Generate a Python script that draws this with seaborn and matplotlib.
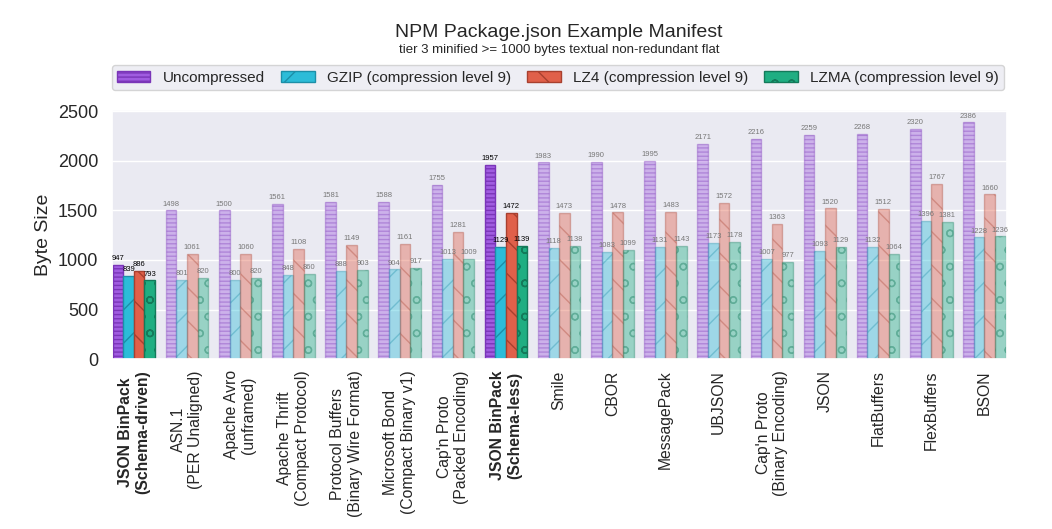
import numpy as np
import pandas as pd
import matplotlib
matplotlib.use("Agg")
import matplotlib.pyplot as plt
import matplotlib.patches as mpatches
import seaborn as sns
from matplotlib.colors import to_rgba

# ── data ────────────────────────────────────────────────────
formats = [
    "JSON BinPack\n(Schema-driven)", "ASN.1\n(PER Unaligned)", "Apache Avro\n(unframed)",
    "Apache Thrift\n(Compact Protocol)", "Protocol Buffers\n(Binary Wire Format)",
    "Microsoft Bond\n(Compact Binary v1)", "Cap'n Proto\n(Packed Encoding)",
    "JSON BinPack\n(Schema-less)", "Smile", "CBOR", "MessagePack", "UBJSON",
    "Cap'n Proto\n(Binary Encoding)", "JSON", "FlatBuffers", "FlexBuffers", "BSON",
]
highlighted = ["JSON BinPack\n(Schema-driven)", "JSON BinPack\n(Schema-less)"]

uncompressed = [947, 1498, 1500, 1561, 1581, 1588, 1755, 1957, 1983, 1990, 1995, 2171, 2216, 2259, 2268, 2320, 2386]
gzip = [839, 801, 800, 848, 888, 904, 1013, 1129, 1118, 1083, 1131, 1173, 1007, 1093, 1132, 1396, 1228]
lz4 = [886, 1061, 1060, 1108, 1149, 1161, 1281, 1472, 1473, 1478, 1483, 1572, 1363, 1520, 1512, 1767, 1660]
lzma = [793, 820, 820, 860, 903, 917, 1009, 1139, 1138, 1099, 1143, 1178, 977, 1129, 1064, 1381, 1236]

series_names = ["Uncompressed", "GZIP (compression level 9)",
                "LZ4 (compression level 9)", "LZMA (compression level 9)"]
colors = ["#a05ce0", "#2cbcd8", "#e0604a", "#1fae82"]
edges = ["#7a35b8", "#1c8fa8", "#a8402f", "#137a5a"]
hatches = ["----", "/", "\\", "o"]

df = pd.DataFrame({
    "format": np.tile(formats, 4),
    "compression": np.repeat(series_names, len(formats)),
    "bytes": uncompressed + gzip + lz4 + lzma,
})

# ── plot ─────────────────────────────────────────────────────
sns.set_theme(style="darkgrid")
plt.rcParams["font.family"] = ["Liberation Sans", "DejaVu Sans"]
plt.rcParams["hatch.linewidth"] = 1.0

fig = plt.figure(figsize=(10.52, 5.29), dpi=100)
ax = fig.add_axes([0.106, 0.321, 0.851, 0.471])

sns.barplot(data=df, x="format", y="bytes", hue="compression",
            hue_order=series_names, order=formats, ax=ax,
            width=0.8, legend=False, errorbar=None)

for i, cont in enumerate(ax.containers):
    for j, bar in enumerate(cont):
        hot = formats[j] in highlighted
        bar.set_hatch(hatches[i])
        if hot:
            bar.set_facecolor(to_rgba(colors[i], 1.0))
            bar.set_edgecolor(to_rgba(edges[i], 1.0))
        else:
            bar.set_facecolor(to_rgba(colors[i], 0.4))
            bar.set_edgecolor(to_rgba(edges[i], 0.35))
        bar.set_linewidth(1.0)
    texts = ax.bar_label(cont, fmt="%d", padding=2, fontsize=5.5)
    for j, t in enumerate(texts):
        t.set_color("black" if formats[j] in highlighted else "#777777")

ax.set_xlim(-0.42, len(formats) - 0.58)
ax.set_ylim(0, 2510)
ax.set_yticks([0, 500, 1000, 1500, 2000, 2500])
ax.tick_params(axis="y", labelsize=13)
ax.tick_params(axis="x", labelsize=11.3, pad=2)
ax.set_xlabel("")
ax.set_ylabel("Byte Size", fontsize=14)
ax.set_xticks(range(len(formats)))
ax.set_xticklabels(formats, rotation=90, va="top", ha="center")
for lbl in ax.get_xticklabels():
    if lbl.get_text() in highlighted:
        lbl.set_fontweight("bold")

handles = [mpatches.Patch(facecolor=colors[i], edgecolor=edges[i],
                          hatch=hatches[i], label=series_names[i])
           for i in range(4)]
ax.legend(handles=handles, loc="lower left", bbox_to_anchor=(0, 1.08, 0.997, 0.1),
          mode="expand", ncol=4, fontsize=11, frameon=True, borderaxespad=0,
          handlelength=2.2, borderpad=0.35)

cx = 0.106 + 0.851 / 2
fig.text(cx, 0.938, "NPM Package.json Example Manifest", ha="center", va="center",
         fontsize=14)
fig.text(cx, 0.905, "tier 3 minified >= 1000 bytes textual non-redundant flat",
         ha="center", va="center", fontsize=9.5)

fig.savefig("out.png", dpi=100)
plt.close()
